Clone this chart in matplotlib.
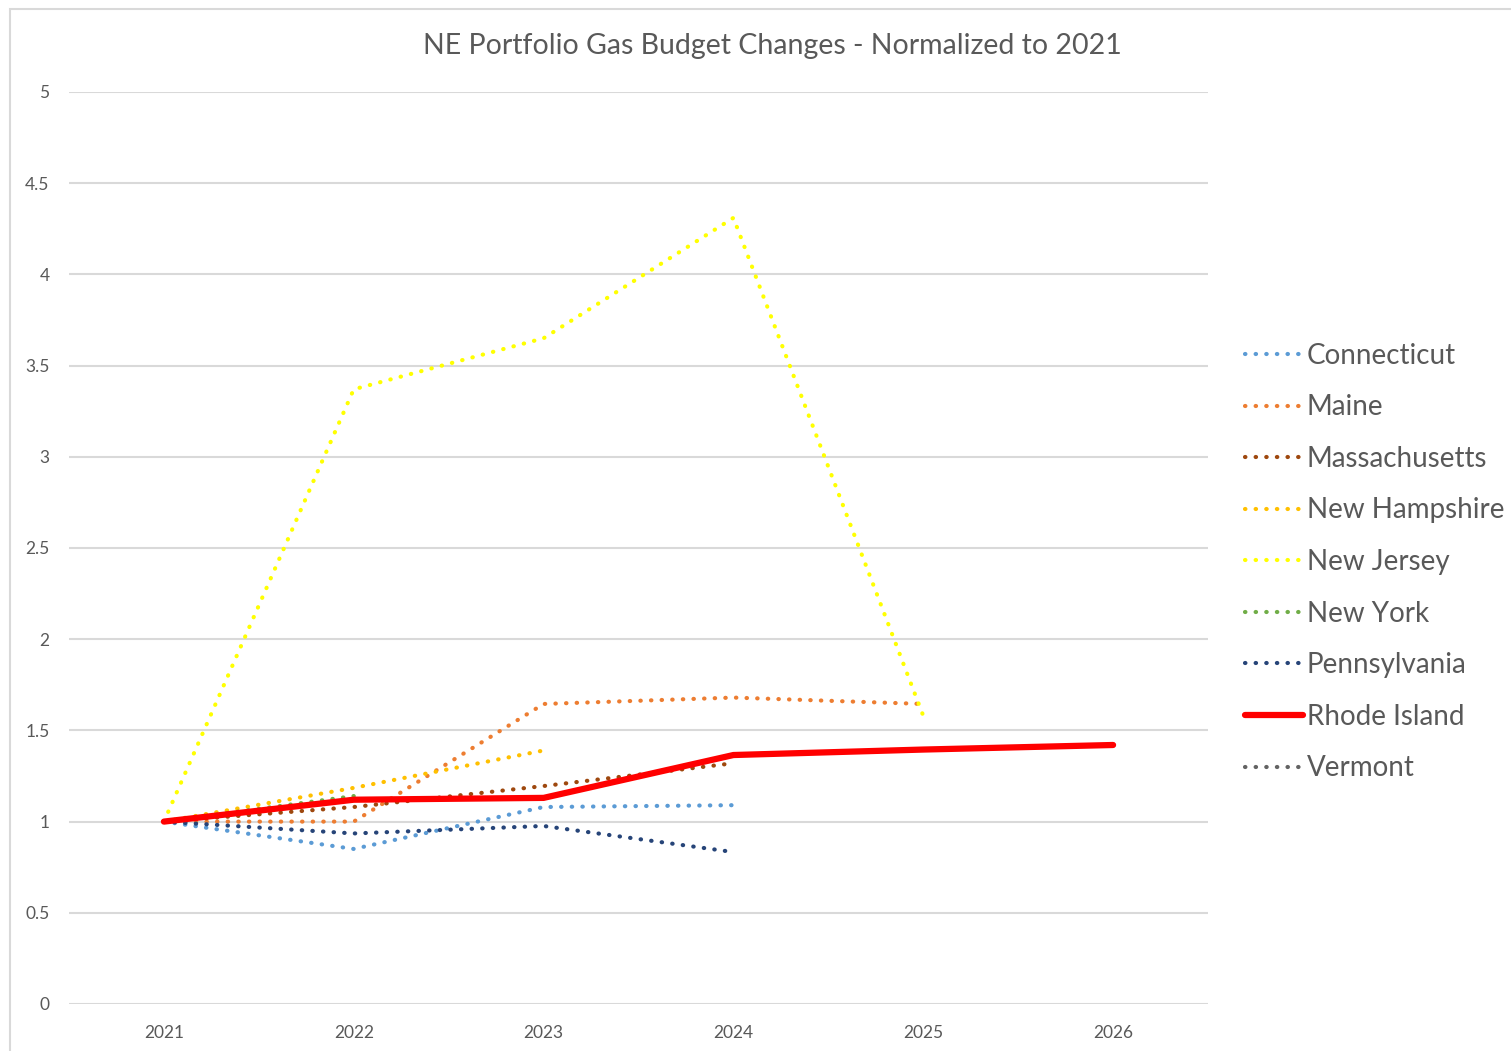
import numpy as np
import matplotlib
matplotlib.use("Agg")
import matplotlib.pyplot as plt
from matplotlib.patches import Rectangle

plt.rcParams['font.family'] = ['Lato', 'DejaVu Sans']

years = [2021, 2022, 2023, 2024, 2025, 2026]
nan = np.nan

# series values (normalized to 2021)
connecticut = [1.0, 0.85, 1.08, 1.09, nan, nan]
maine = [1.0, 1.0, 1.645, 1.68, 1.645, nan]
massachusetts = [1.0, 1.08, 1.195, 1.32, nan, nan]
new_hampshire = [1.0, 1.185, 1.39, nan, nan, nan]
new_jersey = [1.0, 3.37, 3.65, 4.31, 1.58, nan]
new_york = [1.0, 1.14, nan, nan, nan, nan]
pennsylvania = [1.0, 0.935, 0.976, 0.833, nan, nan]
rhode_island = [1.0, 1.12, 1.13, 1.365, 1.395, 1.42]
vermont = [1.0, nan, nan, nan, nan, nan]

states = ['Connecticut', 'Maine', 'Massachusetts', 'New Hampshire', 'New Jersey',
          'New York', 'Pennsylvania', 'Rhode Island', 'Vermont']
series = [connecticut, maine, massachusetts, new_hampshire, new_jersey,
          new_york, pennsylvania, rhode_island, vermont]
colors = ['#5B9BD5', '#ED7D31', '#9E480E', '#FFC000', '#FFFF00',
          '#70AD47', '#264478', '#FF0000', '#636363']

fig = plt.figure(figsize=(15.11, 10.51), dpi=100)
W, H = 1511, 1051

# chart frame
fig.patches.append(Rectangle((10 / W, -0.01), 1.1, 1 - 9 / H + 0.01,
                             transform=fig.transFigure, fill=False,
                             edgecolor='#D9D9D9', linewidth=1.5))

ax = fig.add_axes([69 / W, 47 / H, (1208 - 69) / W, (1004 - 92) / H])

order = [0, 1, 2, 3, 4, 5, 6, 8, 7]  # red line drawn last
handles = {}
for i in order:
    if states[i] == 'Rhode Island':
        ln, = ax.plot(years, series[i], color=colors[i], lw=4.5,
                      solid_capstyle='round', zorder=5)
    else:
        ln, = ax.plot(years, series[i], color=colors[i], lw=3.0,
                      linestyle=(0, (0.1, 2.45)), dash_capstyle='round', zorder=3)
    handles[states[i]] = ln

ax.set_xlim(2020.5, 2026.5)
ax.set_ylim(0, 5)
ax.set_xticks(years)
ax.set_xticklabels([str(y) for y in years])
ax.set_yticks([0, 0.5, 1, 1.5, 2, 2.5, 3, 3.5, 4, 4.5, 5])
ax.set_yticklabels(['0', '0.5', '1', '1.5', '2', '2.5', '3', '3.5', '4', '4.5', '5'])
ax.tick_params(length=0, labelsize=12.5, colors='#595959')
ax.tick_params(axis='y', pad=14)
ax.tick_params(axis='x', pad=15)
ax.grid(axis='y', color='#D9D9D9', lw=1.5)
ax.set_axisbelow(True)
for s in ax.spines.values():
    s.set_visible(False)

fig.text(772 / W, 1 - 46 / H, 'NE Portfolio Gas Budget Changes - Normalized to 2021',
         ha='center', va='center', fontsize=20.5, color='#595959')

leg = fig.legend([handles[s] for s in states], states, loc='center left',
                 bbox_to_anchor=(1220 / W, 1 - 562 / H), frameon=False,
                 fontsize=20, handlelength=2.1, handletextpad=0.12,
                 labelspacing=0.92, labelcolor='#595959')

fig.savefig('out.png', dpi=100)
